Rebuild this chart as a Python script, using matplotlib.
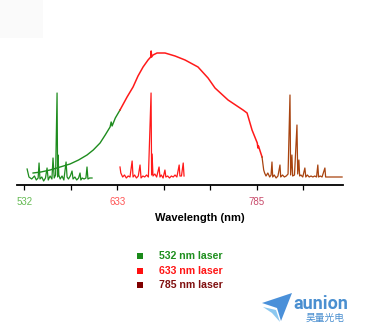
import matplotlib
matplotlib.use("Agg")
import matplotlib.pyplot as plt
from matplotlib.patches import Polygon, Rectangle

# ---------------- data ----------------
tick_positions = [532, 582.6, 633, 683.7, 734.3, 785, 835.6]
tick_labels = ["532", "", "633", "", "", "785", ""]
tick_label_colors = ["#66bb55", None, "#ff5555", None, None, "#c84a6a", None]

# 532 nm laser spectrum
g_x = [535, 537, 540, 543, 545, 547, 548, 549, 551, 553, 555, 556.7, 558, 560, 562,
       563.2, 564.5, 566, 567.6, 568.2, 568.7, 569.5, 571, 573, 575, 577.4, 578.5,
       580, 582, 583.9, 585, 587, 589, 591, 592.6, 593.5, 595, 597, 599, 600.2,
       601.2, 603, 605.7]
g_y = [16, 8, 6, 9, 5, 7, 22, 6, 8, 4, 7, 17, 5, 9, 6,
       27, 7, 10, 92, 8, 30, 10, 6, 9, 5, 23, 8,
       6, 9, 14, 6, 8, 5, 7, 12, 5, 7, 6, 7, 18,
       6, 7, 7]

# 532 nm broad background (fluorescence)
gb_x = [541.5, 550, 560, 571, 581.7, 591, 600.2, 607, 614.4, 620, 625.3, 626.5, 627.5, 631, 636.1]
gb_y = [12, 13, 15, 18, 21, 25, 30, 35, 42, 50, 58, 63, 59, 67, 75]

# 633 nm broad curve
rb_x = [636.1, 643.8, 650.3, 655.7, 661.2, 666.6, 669.5, 670, 670.5, 672.0, 676.4,
        685.1, 696.0, 706.9, 721.0, 731.9, 739.5, 753.7, 770.0, 774.4, 779.8,
        785.5, 786.2, 786.8, 790.7]
rb_y = [75, 88, 98, 109, 118, 125, 128, 134, 128, 130, 132,
        132, 129, 125, 118, 107, 97, 85, 75, 72, 55,
        42, 37, 39, 28]

# 633 nm laser spectrum
r_x = [636.1, 637, 639, 641, 643, 645, 647, 649.3, 650.3, 652, 654, 656, 657.9, 659,
       661, 663, 665, 667, 669.9, 670.5, 671, 672, 674, 676, 678.6, 679.6, 681, 683,
       685, 686, 688, 690, 692, 694, 696, 698, 700.5, 701.3, 703, 704.9, 705.8]
r_y = [18, 12, 8, 10, 7, 9, 8, 24, 8, 10, 7, 9, 20, 7,
       9, 8, 10, 8, 92, 10, 31, 9, 11, 8, 18, 8, 10, 7,
       15, 8, 9, 7, 9, 8, 10, 8, 20, 9, 9, 22, 9]

# 785 nm laser spectrum
b_x = [790.7, 791.5, 792.5, 793.5, 795, 797, 799, 800.5, 801.5, 802.3, 804, 806, 808,
       810.2, 811, 813, 815, 817, 819, 821.1, 821.8, 823.2, 824, 826, 828.7, 829.5,
       830.8, 831.6, 833, 835, 837.3, 838.3, 840, 842, 844, 846, 848, 850, 851.4,
       852.2, 854, 856, 859.1, 859.9, 862, 870, 877.8]
b_y = [28, 22, 15, 12, 9, 12, 8, 10, 23, 8, 10, 7, 9,
       20, 8, 10, 8, 9, 11, 90, 10, 30, 9, 10, 60, 11,
       25, 9, 10, 8, 17, 8, 10, 8, 9, 8, 9, 8, 20,
       8, 9, 8, 17, 8, 8, 8, 8]

legend_labels = ["532 nm laser", "633 nm laser", "785 nm laser"]
legend_square_colors = ["#1a8a1a", "#ff1010", "#800000"]
legend_text_colors = ["#1f8f1f", "#ff1515", "#801010"]

GREEN = "#1e8c1e"
RED = "#ff1a1a"
BROWN = "#a8430f"

# ---------------- figure ----------------
W, H = 369, 332
fig = plt.figure(figsize=(W / 100, H / 100), dpi=100)
fig.patch.set_facecolor("white")

# faint gray box at top-left
fig.patches.append(Rectangle((0, 1 - 38 / H), 43 / W, 38 / H, transform=fig.transFigure,
                             facecolor="#fafafa", edgecolor="none", zorder=0))

ax = fig.add_axes([17 / W, (H - 185) / H, (343 - 17) / W, 145 / H])
ax.set_facecolor("none")
ax.set_xlim(524, 878.8)
ax.set_ylim(0, 145)

ax.plot(gb_x, gb_y, color=GREEN, lw=1.0)
ax.plot(g_x, g_y, color=GREEN, lw=0.9)
ax.plot(rb_x, rb_y, color=RED, lw=1.1)
ax.plot(r_x, r_y, color=RED, lw=0.9)
ax.plot(b_x, b_y, color=BROWN, lw=0.9)

for s in ["top", "right", "left"]:
    ax.spines[s].set_visible(False)
ax.spines["bottom"].set_linewidth(1.3)
ax.set_yticks([])
ax.set_xticks(tick_positions)
ax.set_xticklabels(tick_labels, fontsize=7, family="Liberation Sans")
for lbl, c in zip(ax.get_xticklabels(), tick_label_colors):
    if c:
        lbl.set_color(c)
ax.tick_params(axis="x", direction="out", length=3.5, width=0.9, pad=5)
ax.set_xlabel("Wavelength (nm)", fontsize=8, fontweight="bold",
              family="Liberation Sans", labelpad=4)
ax.xaxis.set_label_coords((200 - 17) / (343 - 17), (185 - 218) / 145)
ax.xaxis.label.set_va("center")

# legend (manual, figure coords)
ys = [256, 271, 285]
for y, lab, sc, tc in zip(ys, legend_labels, legend_square_colors, legend_text_colors):
    fig.patches.append(Rectangle((137 / W, 1 - (y + 3) / H), 6 / W, 6 / H,
                                 transform=fig.transFigure, facecolor=sc, edgecolor="none"))
    fig.text(159 / W, 1 - y / H, lab, color=tc, fontsize=7.6, fontweight="bold",
             family="Liberation Sans", va="center", ha="left")

# logo
def fp(x, y):
    return (x / W, 1 - y / H)

fig.patches.append(Polygon([fp(262, 303), fp(292, 293), fp(281, 321), fp(277, 308)],
                           closed=True, transform=fig.transFigure,
                           facecolor="#4a90d9", edgecolor="none"))
fig.patches.append(Polygon([fp(263, 307), fp(276, 310), fp(280, 322), fp(272, 313)],
                           closed=True, transform=fig.transFigure,
                           facecolor="#8cc8f0", edgecolor="none"))
fig.text(293 / W, 1 - 309 / H, "aunion", color="#4a8fd0", fontsize=13,
         fontweight="bold", family="Roboto", va="baseline", ha="left")
fig.text(325 / W, 1 - 318 / H, "昊量光电", color="#4a8fd0", fontsize=7,
         family=["Noto Sans CJK SC", "DejaVu Sans"], va="center", ha="center")

fig.savefig("out.png", dpi=100, facecolor="white")
